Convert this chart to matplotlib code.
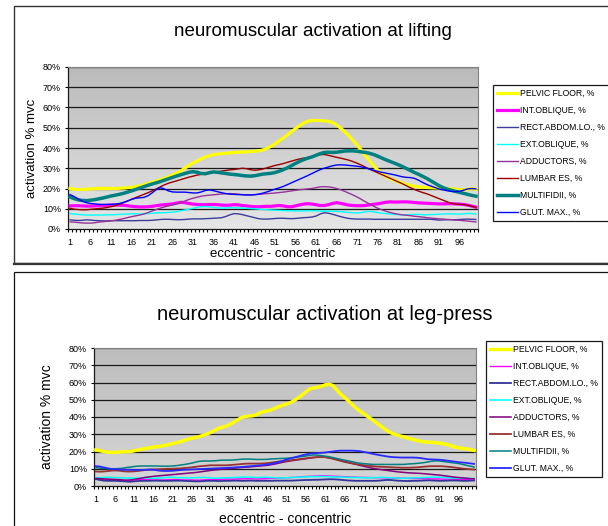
import numpy as np
import matplotlib
matplotlib.use('Agg')
import matplotlib.pyplot as plt
from matplotlib.patches import Rectangle
from matplotlib.lines import Line2D

plt.rcParams['font.family'] = ['Liberation Sans', 'DejaVu Sans']

# x axis: 100 samples, eccentric -> concentric
points = list(range(1, 101))
tick_points = list(range(1, 100, 5))
tick_labels = [str(p) for p in tick_points]
y_ticks = [0, 10, 20, 30, 40, 50, 60, 70, 80]
y_tick_labels = [f'{v}%' for v in y_ticks]

names = ['PELVIC FLOOR, %', 'INT.OBLIQUE, %', 'RECT.ABDOM.LO., %', 'EXT.OBLIQUE, %',
         'ADDUCTORS, %', 'LUMBAR ES, %', 'MULTIFIDII, %', 'GLUT. MAX., %']

# ---- lifting (values in % mvc) ----
lift_pelvic = [20.0, 19.6, 19.5, 19.5, 19.6, 19.8, 19.9, 20.0, 20.0, 20.0,
               20.0, 20.0, 20.1, 20.2, 20.4, 20.6, 20.9, 21.3, 21.8, 22.4,
               23.0, 23.6, 24.3, 25.0, 25.8, 26.6, 27.6, 28.7, 30.0, 31.4,
               32.6, 33.6, 34.6, 35.5, 36.2, 36.7, 37.0, 37.2, 37.4, 37.6,
               37.8, 37.9, 38.0, 38.1, 38.2, 38.4, 38.6, 39.0, 39.8, 40.8,
               42.0, 43.4, 44.9, 46.4, 48.0, 49.6, 51.0, 52.3, 53.2, 53.6,
               53.6, 53.5, 53.4, 53.2, 52.6, 51.4, 49.8, 48.0, 46.0, 43.8,
               41.5, 39.0, 36.4, 33.8, 31.4, 29.2, 27.4, 26.0, 24.9, 24.0,
               23.3, 22.6, 22.0, 21.5, 21.1, 20.8, 20.6, 20.5, 20.4, 20.3,
               20.2, 20.1, 20.0, 19.8, 19.6, 19.4, 19.3, 19.6, 20.0, 19.6]
lift_int_obl = [11.4, 11.5, 11.5, 11.4, 11.3, 11.3, 11.4, 11.5, 11.6, 11.7,
                11.8, 11.8, 11.8, 11.7, 11.5, 11.2, 11.0, 10.9, 10.9, 11.0,
                11.2, 11.5, 11.8, 12.0, 12.2, 12.4, 12.8, 13.2, 13.0, 12.6,
                12.3, 12.1, 12.0, 12.0, 12.1, 12.1, 12.0, 11.8, 11.7, 11.8,
                12.0, 11.9, 11.6, 11.4, 11.2, 11.0, 11.0, 11.1, 11.2, 11.2,
                11.4, 11.6, 11.4, 11.0, 11.0, 11.4, 11.9, 12.3, 12.5, 12.3,
                12.0, 11.6, 11.6, 12.0, 12.6, 13.0, 12.7, 12.2, 11.8, 11.6,
                11.5, 11.5, 11.6, 11.9, 12.2, 12.4, 12.8, 13.2, 13.4, 13.3,
                13.3, 13.4, 13.4, 13.3, 13.1, 12.9, 12.8, 12.7, 12.6, 12.5,
                12.4, 12.4, 12.5, 12.5, 12.4, 12.3, 12.1, 11.8, 11.3, 10.8]
lift_rect_abd = [4.5, 4.3, 4.2, 4.3, 4.5, 4.4, 4.2, 4.1, 4.0, 4.0,
                 4.1, 4.1, 4.1, 4.1, 4.1, 4.1, 4.1, 4.2, 4.2, 4.2,
                 4.3, 4.5, 4.7, 4.8, 4.8, 4.7, 4.6, 4.6, 4.7, 4.9,
                 5.0, 5.0, 5.0, 5.1, 5.2, 5.3, 5.4, 5.6, 6.2, 7.0,
                 7.6, 7.5, 7.1, 6.6, 6.1, 5.6, 5.1, 4.9, 4.9, 5.0,
                 5.2, 5.3, 5.3, 5.2, 5.1, 5.2, 5.4, 5.6, 5.7, 5.9,
                 6.4, 7.4, 8.0, 7.8, 7.3, 6.7, 6.1, 5.6, 5.2, 5.0,
                 4.9, 4.9, 4.9, 4.9, 4.8, 4.8, 4.8, 4.8, 4.8, 4.8,
                 4.8, 4.8, 4.8, 4.8, 4.8, 4.8, 4.8, 4.8, 4.8, 4.6,
                 4.4, 4.5, 4.6, 4.6, 4.6, 4.7, 4.8, 4.9, 4.8, 4.7]
lift_ext_obl = [7.6, 7.4, 7.2, 7.0, 6.9, 6.9, 6.9, 6.9, 6.9, 7.0,
                7.0, 7.1, 7.2, 7.3, 7.4, 7.5, 7.5, 7.4, 7.5, 7.6,
                7.8, 7.9, 8.0, 8.1, 8.2, 8.3, 8.6, 9.0, 9.4, 9.8,
                10.2, 10.7, 11.0, 11.1, 10.9, 10.6, 10.4, 10.3, 10.4, 10.5,
                10.5, 10.4, 10.3, 10.2, 10.1, 10.0, 9.8, 9.6, 9.5, 9.4,
                9.3, 9.2, 9.1, 9.0, 9.0, 8.9, 8.9, 8.9, 9.0, 9.0,
                9.0, 8.9, 8.8, 8.8, 8.8, 8.7, 8.6, 8.4, 8.2, 8.0,
                7.9, 8.1, 8.5, 8.7, 8.5, 8.1, 7.8, 7.6, 7.4, 7.2,
                7.1, 7.0, 7.0, 7.1, 7.2, 7.2, 7.1, 7.0, 7.1, 7.2,
                7.3, 7.4, 7.5, 7.5, 7.4, 7.3, 7.5, 7.7, 7.6, 7.4]
lift_adductors = [3.5, 3.4, 3.2, 3.0, 2.9, 2.9, 3.1, 3.4, 3.6, 3.8,
                  4.0, 4.3, 4.7, 5.1, 5.6, 6.1, 6.5, 6.9, 7.4, 8.1,
                  8.9, 9.6, 10.3, 10.9, 11.4, 11.9, 12.4, 13.0, 13.8, 14.6,
                  15.2, 15.7, 16.2, 16.5, 16.7, 16.9, 17.1, 17.3, 17.4, 17.5,
                  17.4, 17.2, 17.0, 16.9, 16.9, 17.0, 17.1, 17.3, 17.5, 17.6,
                  17.8, 18.0, 18.2, 18.5, 18.8, 19.1, 19.4, 19.6, 19.8, 20.0,
                  20.4, 20.8, 20.9, 20.8, 20.5, 20.0, 19.4, 18.6, 17.7, 16.8,
                  15.8, 14.7, 13.5, 12.4, 11.3, 10.3, 9.5, 8.8, 8.2, 7.7,
                  7.3, 7.0, 6.8, 6.6, 6.3, 6.1, 5.9, 5.6, 5.4, 5.2,
                  5.0, 4.9, 4.7, 4.6, 4.4, 4.3, 4.1, 3.9, 3.7, 3.5]
lift_lumbar = [10.2, 9.8, 9.6, 9.5, 9.5, 9.7, 9.9, 10.1, 10.3, 10.6,
               11.0, 11.5, 12.2, 13.0, 13.8, 14.7, 15.5, 16.3, 17.1, 17.9,
               18.8, 19.8, 20.8, 21.8, 22.6, 23.2, 23.8, 24.4, 25.0, 25.6,
               26.1, 26.6, 27.0, 27.4, 27.7, 28.0, 28.3, 28.6, 28.9, 29.2,
               29.4, 29.7, 30.0, 29.8, 29.3, 29.0, 29.2, 29.6, 30.2, 30.8,
               31.4, 31.8, 32.3, 32.9, 33.5, 34.1, 34.6, 35.0, 35.3, 35.8,
               36.3, 36.7, 36.8, 36.4, 35.9, 35.4, 35.0, 34.5, 34.0, 33.3,
               32.5, 31.6, 30.6, 29.6, 28.7, 27.8, 26.9, 26.0, 25.1, 24.2,
               23.3, 22.4, 21.4, 20.4, 19.5, 18.7, 18.0, 17.4, 16.6, 15.8,
               15.0, 14.2, 13.4, 12.7, 12.3, 12.2, 12.1, 11.7, 11.2, 10.6]
lift_multifidii = [15.8, 15.0, 14.4, 14.1, 14.0, 14.2, 14.5, 14.9, 15.3, 15.8,
                   16.3, 16.7, 17.1, 17.6, 18.2, 18.8, 19.5, 20.2, 20.9, 21.6,
                   22.2, 22.8, 23.4, 24.1, 24.8, 25.5, 26.2, 26.8, 27.4, 28.0,
                   28.3, 28.0, 27.4, 27.3, 27.8, 28.2, 28.0, 27.7, 27.4, 27.1,
                   26.9, 26.7, 26.4, 26.2, 26.1, 26.3, 26.7, 27.1, 27.3, 27.5,
                   27.9, 28.5, 29.3, 30.2, 31.3, 32.4, 33.4, 34.3, 35.0, 35.6,
                   36.4, 37.2, 37.8, 37.9, 37.8, 37.9, 38.2, 38.5, 38.6, 38.6,
                   38.4, 38.1, 37.8, 37.4, 36.8, 36.0, 35.1, 34.2, 33.4, 32.6,
                   31.8, 30.9, 29.9, 28.9, 27.9, 27.0, 26.0, 25.0, 23.8, 22.6,
                   21.4, 20.4, 19.7, 19.1, 18.6, 18.1, 17.6, 17.1, 16.6, 16.2]
lift_glut = [17.0, 16.0, 14.8, 13.7, 13.0, 12.6, 12.4, 12.2, 12.1, 12.1,
             12.2, 12.3, 12.6, 13.1, 13.8, 14.6, 15.2, 15.4, 15.6, 16.4,
             17.8, 19.4, 20.4, 19.8, 18.8, 18.3, 18.2, 18.2, 18.2, 18.0,
             17.8, 17.8, 18.3, 19.0, 19.3, 18.9, 18.4, 17.9, 17.5, 17.2,
             17.1, 17.0, 16.9, 16.8, 16.8, 16.9, 17.2, 17.7, 18.3, 19.0,
             19.7, 20.3, 21.0, 21.9, 22.8, 23.7, 24.6, 25.5, 26.4, 27.4,
             28.4, 29.3, 30.0, 30.6, 31.2, 31.6, 31.7, 31.6, 31.4, 31.2,
             31.0, 30.7, 30.2, 29.6, 29.0, 28.5, 28.0, 27.6, 27.2, 26.8,
             26.3, 25.8, 25.5, 25.4, 25.0, 24.1, 23.0, 22.0, 21.2, 20.5,
             19.8, 19.3, 18.9, 18.6, 18.4, 18.6, 19.2, 19.8, 20.0, 19.8]

# ---- leg-press (values in % mvc) ----
press_pelvic = [20.9, 20.5, 20.0, 19.6, 19.5, 19.5, 19.6, 19.8, 19.9, 20.0,
                20.4, 20.9, 21.3, 21.7, 22.1, 22.5, 22.8, 23.1, 23.5, 24.0,
                24.5, 25.0, 25.6, 26.3, 27.0, 27.6, 28.1, 28.6, 29.3, 30.1,
                31.0, 32.1, 33.3, 34.0, 34.6, 35.6, 36.8, 38.2, 39.5, 40.3,
                40.5, 40.7, 41.2, 42.5, 43.2, 43.6, 44.2, 45.2, 46.1, 46.9,
                47.6, 48.4, 49.7, 51.2, 52.8, 54.6, 56.3, 56.9, 57.2, 57.8,
                58.6, 59.0, 58.3, 55.8, 53.4, 51.5, 49.6, 47.4, 45.3, 43.6,
                42.1, 40.5, 38.9, 37.3, 35.7, 34.0, 32.4, 31.1, 30.1, 29.4,
                28.8, 28.2, 27.6, 27.0, 26.4, 25.9, 25.6, 25.4, 25.3, 25.1,
                24.8, 24.5, 24.0, 23.3, 22.6, 22.1, 21.8, 21.5, 21.1, 20.6]
press_int_obl = [4.0, 3.9, 3.8, 3.7, 3.6, 3.5, 3.4, 3.2, 3.0, 3.2,
                 3.5, 3.8, 3.9, 3.8, 3.6, 3.5, 3.5, 3.5, 3.5, 3.6,
                 3.7, 3.7, 3.6, 3.5, 3.5, 3.5, 3.4, 3.4, 3.5, 3.6,
                 3.7, 3.8, 3.8, 3.9, 4.0, 4.0, 4.0, 4.1, 4.1, 4.2,
                 4.2, 4.2, 4.1, 4.1, 4.2, 4.3, 4.4, 4.5, 4.6, 4.7,
                 4.8, 4.9, 5.0, 5.2, 5.4, 5.5, 5.6, 5.7, 5.8, 5.9,
                 5.9, 5.8, 5.7, 5.6, 5.5, 5.4, 5.3, 5.2, 5.1, 5.0,
                 5.0, 4.9, 4.9, 4.8, 4.8, 4.8, 4.7, 4.7, 4.6, 4.6,
                 4.5, 4.5, 4.4, 4.4, 4.3, 4.3, 4.2, 4.2, 4.1, 4.1,
                 4.1, 4.0, 4.0, 4.0, 3.9, 3.9, 3.9, 3.8, 3.8, 3.8]
press_rect_abd = [4.0, 3.5, 3.1, 3.0, 3.0, 3.0, 2.9, 2.8, 2.6, 2.5,
                  2.7, 2.9, 3.0, 3.0, 3.0, 3.1, 3.1, 3.0, 3.0, 3.0,
                  3.0, 3.1, 3.1, 3.0, 2.9, 2.8, 2.7, 2.7, 2.8, 3.0,
                  3.0, 3.0, 2.9, 2.9, 3.0, 3.0, 3.1, 3.1, 3.0, 3.0,
                  3.1, 3.1, 3.0, 3.0, 3.0, 3.0, 3.0, 3.1, 3.1, 3.1,
                  3.1, 3.1, 3.2, 3.3, 3.4, 3.5, 3.5, 3.6, 3.6, 3.7,
                  3.8, 3.9, 3.9, 3.8, 3.6, 3.4, 3.2, 3.1, 3.0, 3.0,
                  3.0, 3.0, 3.0, 3.0, 3.1, 3.3, 3.5, 3.5, 3.3, 3.1,
                  3.0, 2.9, 2.9, 3.0, 3.0, 3.1, 3.2, 3.3, 3.2, 3.1,
                  3.0, 3.0, 3.1, 3.2, 3.2, 3.1, 3.0, 3.0, 3.1, 3.2]
press_ext_obl = [4.8, 4.8, 4.9, 5.0, 5.0, 4.9, 4.8, 4.7, 4.6, 4.6,
                 4.6, 4.5, 4.5, 4.6, 4.6, 4.5, 4.5, 4.6, 4.8, 5.0,
                 5.0, 4.9, 4.8, 4.8, 4.7, 4.7, 4.8, 4.9, 5.0, 4.9,
                 4.7, 4.6, 4.6, 4.7, 4.8, 4.8, 4.9, 5.0, 5.1, 5.2,
                 5.1, 5.0, 4.9, 5.0, 5.1, 5.0, 4.9, 4.8, 4.7, 4.7,
                 4.8, 4.9, 5.0, 5.1, 5.2, 5.3, 5.4, 5.4, 5.5, 5.5,
                 5.5, 5.4, 5.3, 5.2, 5.2, 5.1, 5.0, 5.0, 4.9, 4.9,
                 4.8, 4.8, 4.8, 4.9, 5.0, 5.0, 4.9, 4.8, 4.7, 4.6,
                 4.5, 4.5, 4.6, 4.7, 4.8, 4.8, 4.9, 5.0, 5.1, 5.1,
                 5.0, 4.9, 4.8, 4.7, 4.6, 4.6, 4.5, 4.5, 4.4, 4.4]
press_adductors = [4.4, 4.3, 4.1, 4.0, 3.9, 3.8, 3.7, 3.5, 3.4, 3.5,
                   3.8, 4.2, 4.6, 5.0, 5.3, 5.6, 5.8, 6.0, 6.2, 6.4,
                   6.6, 6.8, 7.0, 7.2, 7.4, 7.6, 7.8, 8.1, 8.4, 8.7,
                   9.0, 9.3, 9.5, 9.7, 9.9, 10.1, 10.3, 10.5, 10.7, 10.9,
                   11.0, 11.2, 11.4, 11.6, 11.8, 12.0, 12.4, 12.8, 13.3, 13.8,
                   14.2, 14.6, 14.9, 15.2, 15.5, 15.8, 16.2, 16.5, 16.7, 16.8,
                   16.7, 16.4, 16.0, 15.5, 15.0, 14.4, 13.8, 13.2, 12.6, 12.0,
                   11.5, 11.0, 10.5, 10.1, 9.7, 9.4, 9.1, 8.8, 8.5, 8.2,
                   8.0, 7.8, 7.6, 7.5, 7.4, 7.3, 7.1, 6.9, 6.7, 6.5,
                   6.3, 6.0, 5.7, 5.4, 5.1, 4.9, 4.7, 4.5, 4.3, 4.2]
press_lumbar = [8.4, 8.3, 8.4, 8.6, 8.9, 9.0, 8.9, 8.6, 8.4, 8.4,
                8.5, 8.7, 9.0, 9.3, 9.5, 9.6, 9.7, 9.8, 9.9, 10.0,
                10.0, 10.1, 10.2, 10.4, 10.6, 10.8, 11.1, 11.4, 11.6, 11.8,
                12.0, 12.0, 12.0, 12.0, 12.0, 12.1, 12.3, 12.5, 12.7, 12.9,
                13.0, 13.0, 13.0, 13.0, 13.1, 13.3, 13.6, 13.9, 14.2, 14.4,
                14.6, 14.9, 15.2, 15.5, 15.8, 16.1, 16.4, 16.6, 16.7, 16.8,
                16.7, 16.3, 15.8, 15.2, 14.6, 14.0, 13.5, 13.1, 12.7, 12.4,
                12.1, 11.8, 11.6, 11.4, 11.2, 11.1, 11.0, 10.9, 10.8, 10.7,
                10.6, 10.6, 10.6, 10.7, 10.8, 11.0, 11.2, 11.4, 11.5, 11.5,
                11.5, 11.4, 11.2, 11.0, 10.7, 10.4, 10.1, 9.9, 9.7, 9.5]
press_multifidii = [10.6, 10.4, 10.2, 10.0, 10.0, 10.0, 10.1, 10.3, 10.7, 11.0,
                    11.3, 11.5, 11.6, 11.6, 11.6, 11.6, 11.6, 11.5, 11.5, 11.5,
                    11.6, 11.8, 12.1, 12.4, 12.8, 13.2, 13.8, 14.3, 14.5, 14.5,
                    14.5, 14.6, 14.8, 15.0, 15.0, 15.0, 15.1, 15.3, 15.5, 15.6,
                    15.6, 15.5, 15.4, 15.4, 15.4, 15.5, 15.7, 15.8, 15.9, 16.0,
                    16.1, 16.3, 16.6, 16.8, 17.1, 17.4, 17.8, 18.0, 17.9, 17.6,
                    17.3, 17.0, 16.5, 16.0, 15.5, 15.0, 14.6, 14.1, 13.6, 13.2,
                    13.0, 12.8, 12.6, 12.5, 12.5, 12.5, 12.5, 12.5, 12.5, 12.5,
                    12.5, 12.6, 12.8, 12.9, 13.1, 13.3, 13.6, 14.0, 14.4, 14.6,
                    14.5, 14.2, 13.9, 13.6, 13.3, 13.0, 12.5, 12.0, 11.5, 11.0]
press_glut = [11.5, 11.3, 10.8, 10.3, 9.9, 9.7, 9.6, 9.5, 9.4, 9.4,
              9.3, 9.3, 9.3, 9.4, 9.5, 9.4, 9.1, 8.8, 8.7, 8.7,
              8.8, 9.0, 9.2, 9.4, 9.5, 9.6, 9.7, 9.8, 9.9, 10.0,
              10.1, 10.2, 10.3, 10.4, 10.5, 10.6, 10.7, 10.9, 11.0, 11.2,
              11.4, 11.6, 11.8, 12.0, 12.2, 12.5, 12.9, 13.4, 14.0, 14.7,
              15.4, 16.0, 16.6, 17.2, 17.8, 18.3, 18.8, 19.0, 19.1, 19.2,
              19.4, 19.7, 20.0, 20.3, 20.5, 20.5, 20.5, 20.5, 20.4, 20.2,
              19.8, 19.4, 18.9, 18.4, 18.0, 17.6, 17.2, 16.9, 16.7, 16.6,
              16.5, 16.5, 16.5, 16.5, 16.4, 16.2, 15.8, 15.5, 15.4, 15.3,
              15.2, 15.0, 14.7, 14.4, 14.1, 13.8, 13.6, 13.4, 13.1, 12.8]

lift_series = [lift_pelvic, lift_int_obl, lift_rect_abd, lift_ext_obl,
               lift_adductors, lift_lumbar, lift_multifidii, lift_glut]
press_series = [press_pelvic, press_int_obl, press_rect_abd, press_ext_obl,
                press_adductors, press_lumbar, press_multifidii, press_glut]

lift_colors = ['#ffff00', '#ff00ff', '#3c3c9c', '#00ffff', '#993399', '#990000', '#008080', '#0000ff']
lift_widths = [2.3, 2.3, 1.0, 1.0, 1.0, 1.0, 2.5, 1.0]
press_colors = ['#ffff00', '#ff00ff', '#333399', '#00ffff', '#800080', '#993333', '#008080', '#2a2aff']
press_widths = [2.5, 1.0, 1.3, 1.1, 1.1, 1.3, 1.1, 1.3]

W, H = 608, 526
fig = plt.figure(figsize=(W / 100, H / 100), dpi=100)


def fx(px):
    return px / W


def fy(py):
    return 1 - py / H


def panel(box, title, title_y, title_size, series, colors, widths,
          ylabel_x, label_size, xlabel_y, legend_xy, bg):
    x0, y0, x1, y1 = box
    ax = fig.add_axes([fx(x0), fy(y1), fx(x1 - x0), (y1 - y0) / H])
    grad = np.linspace(0, 1, 256).reshape(-1, 1)
    ax.imshow(grad, extent=[0.5, 100.5, 0, 80], aspect='auto', origin='upper',
              cmap=matplotlib.colors.LinearSegmentedColormap.from_list('bg', bg),
              zorder=0)
    for v in y_ticks[1:]:
        ax.axhline(v, color='#1a1a1a', lw=0.9, zorder=1)
    for vals, name, c, lw in zip(series, names, colors, widths):
        ax.plot(points, vals, color=c, lw=lw, label=name, zorder=3,
                solid_joinstyle='round')
    ax.set_xlim(0.5, 100.5)
    ax.set_ylim(0, 80)
    ax.set_yticks(y_ticks)
    ax.set_yticklabels(y_tick_labels, fontsize=6.5)
    ax.set_xticks(tick_points)
    ax.set_xticklabels(tick_labels, fontsize=6.5)
    ax.set_xticks(np.arange(0.5, 101, 1), minor=True)
    ax.tick_params(axis='x', which='major', length=0, pad=6.5)
    ax.tick_params(axis='x', which='minor', length=2.5, width=0.8, direction='out')
    ax.tick_params(axis='y', length=2.5, width=0.8, pad=2.5)
    for s in ['top', 'right']:
        ax.spines[s].set_color('#808080')
        ax.spines[s].set_linewidth(0.8)
    for s in ['left', 'bottom']:
        ax.spines[s].set_color('#1a1a1a')
        ax.spines[s].set_linewidth(0.9)
    fig.text(fx((x0 + x1) / 2 + 40), fy(title_y), title, fontsize=title_size,
             ha='center', va='center')
    fig.text(fx(ylabel_x), fy((y0 + y1) / 2), 'activation % mvc', fontsize=label_size,
             rotation=90, ha='center', va='center')
    fig.text(fx((x0 + x1) / 2), fy(xlabel_y), 'eccentric - concentric',
             fontsize=label_size, ha='center', va='center')
    leg = ax.legend(loc='upper left', bbox_to_anchor=(fx(legend_xy[0]), fy(legend_xy[1])),
                    bbox_transform=fig.transFigure, fontsize=6.2, frameon=True,
                    fancybox=False, edgecolor='#1a1a1a', framealpha=1,
                    handlelength=2.4, handletextpad=0.3, labelspacing=0.93,
                    borderpad=0.45, borderaxespad=0)
    leg.get_frame().set_linewidth(0.9)
    return ax


panel((68, 67, 478, 229), 'neuromuscular activation at lifting', 31, 13.5,
      lift_series, lift_colors, lift_widths, 32, 9.5, 254, (493, 85),
      ['#bababa', '#e6e6e6'])
panel((94, 348, 476, 486), 'neuromuscular activation at leg-press', 315, 14.5,
      press_series, press_colors, press_widths, 47, 10, 519, (486, 341),
      ['#bdbdbd', '#d6d6d6'])

# chart frames
fig.patches.append(Rectangle((fx(14), fy(263)), 1, (263 - 6) / H, transform=fig.transFigure,
                             fill=False, ec='#333333', lw=1.0))
fig.lines.append(Line2D([fx(14), 1], [fy(263.5), fy(263.5)], transform=fig.transFigure,
                        color='#333333', lw=1.6))
fig.patches.append(Rectangle((fx(14), fy(540)), 1, (540 - 272) / H, transform=fig.transFigure,
                             fill=False, ec='#111111', lw=0.9))

fig.savefig('out.png', dpi=100)
